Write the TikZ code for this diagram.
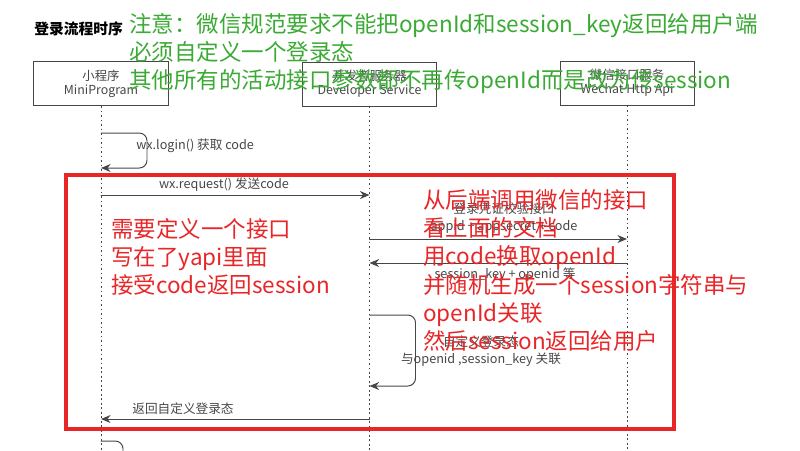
\documentclass[tikz,border=0pt]{standalone}
\usepackage{fontspec}
\setmainfont{Noto Sans CJK SC}
\usetikzlibrary{arrows.meta}
\usepackage{xcolor}
\definecolor{notegreen}{RGB}{58,170,52}
\definecolor{notered}{RGB}{232,38,40}
\definecolor{seqgray}{RGB}{70,70,70}

\begin{document}
\begin{tikzpicture}[x=0.025cm,y=-0.025cm,>={Stealth[length=2.4mm,width=2mm]},line cap=round,
  head/.style={draw=seqgray,line width=0.7pt,minimum width=3.35cm,minimum height=1.1cm,align=center,
    font=\fontsize{8.8}{10}\selectfont,text=seqgray,inner sep=0pt},
  life/.style={seqgray,dash pattern=on 1.4pt off 1.8pt,line width=0.6pt,line cap=butt},
  msg/.style={->,seqgray,line width=0.7pt},
  selfloop/.style={msg,rounded corners=5.5pt},
  lbl/.style={font=\fontsize{9}{12}\selectfont,text=seqgray,inner sep=0pt,align=center},
  greennote/.style={font=\fontsize{16}{20}\selectfont,text=notegreen,inner sep=0pt,align=left,anchor=west},
  rednote/.style={font=\fontsize{16}{20}\selectfont,text=notered,inner sep=0pt,align=left,anchor=west}]
\useasboundingbox (0,0) rectangle (800,450);
\node[font=\bfseries\fontsize{10.5}{12}\selectfont,anchor=west,inner sep=0pt] (title) at (34,29) {登录流程时序};

\node[head] (mp) at (101,83.5) {小程序\\MiniProgram};
\node[head] (dev) at (369.5,84) {开发者服务器\\Developer Service};
\node[head] (wx) at (627,83) {微信接口服务\\Wechat Http Api};
\coordinate (mp-end) at (mp.south |- 0,450);
\coordinate (dev-end) at (dev.south |- 0,450);
\coordinate (wx-end) at (wx.south |- 0,450);
\draw[life] (mp.south) -- (mp-end);
\draw[life] (dev.south) -- (dev-end);
\draw[life] (wx.south) -- (wx-end);

\coordinate (mp-a) at (mp.south |- 0,133);
\coordinate (mp-b) at (mp.south |- 0,168);
\coordinate (mp-c) at (mp.south |- 0,195);
\coordinate (mp-d) at (mp.south |- 0,419);
\coordinate (mp-e) at (mp.south |- 0,441);
\coordinate (dev-c) at (dev.south |- 0,195);
\coordinate (dev-d) at (dev.south |- 0,239);
\coordinate (dev-e) at (dev.south |- 0,263);
\coordinate (dev-f) at (dev.south |- 0,315);
\coordinate (dev-g) at (dev.south |- 0,386);
\coordinate (dev-h) at (dev.south |- 0,419);
\coordinate (wx-d) at (wx.south |- 0,239);
\coordinate (wx-e) at (wx.south |- 0,263);

\draw[selfloop] (mp-a) -- ++(46,0) -- ++(0,35) -- (mp-b);
\node[lbl,anchor=west] (login) at (136,146) {wx.login() 获取 code};
\draw[msg] (mp-c) -- (dev-c);
\node[lbl] (request) at (224,185) {wx.request() 发送code};
\draw[msg] (dev-d) -- (wx-d);
\node[lbl] (check) at (504,218.5) {登录凭证校验接口\\appid + appsecret + code};
\draw[msg] (wx-e) -- (dev-e);
\node[lbl] (keys) at (505,275) {session\_key + openid 等};
\draw[selfloop] (dev-f) -- ++(46,0) -- ++(0,71) -- (dev-g);
\node[lbl] (bind) at (481,351.5) {自定义登录态\\与openid ,session\_key 关联};
\draw[msg] (dev-h) -- (mp-d);
\node[lbl] (back) at (183,409) {返回自定义登录态};
\draw[seqgray,line width=0.7pt,rounded corners=5.5pt] (mp-e) -- ++(22,0) -- ++(0,12);

\draw[notered,line width=2.2pt] (66,175) rectangle (674,429);
\node[greennote] (rule) at (129,53.5) {注意：微信规范要求不能把openId和session\_key返回给用户端\\必须自定义一个登录态\\其他所有的活动接口参数都不再传openId而是改为传session};
\node[rednote] (api) at (111,257) {需要定义一个接口\\写在了yapi里面\\接受code返回session};
\node[rednote] (server) at (423,270.5) {从后端调用微信的接口\\看上面的文档\\用code换取openId\\并随机生成一个session字符串与\\openId关联\\然后session返回给用户};
\end{tikzpicture}
\end{document}
